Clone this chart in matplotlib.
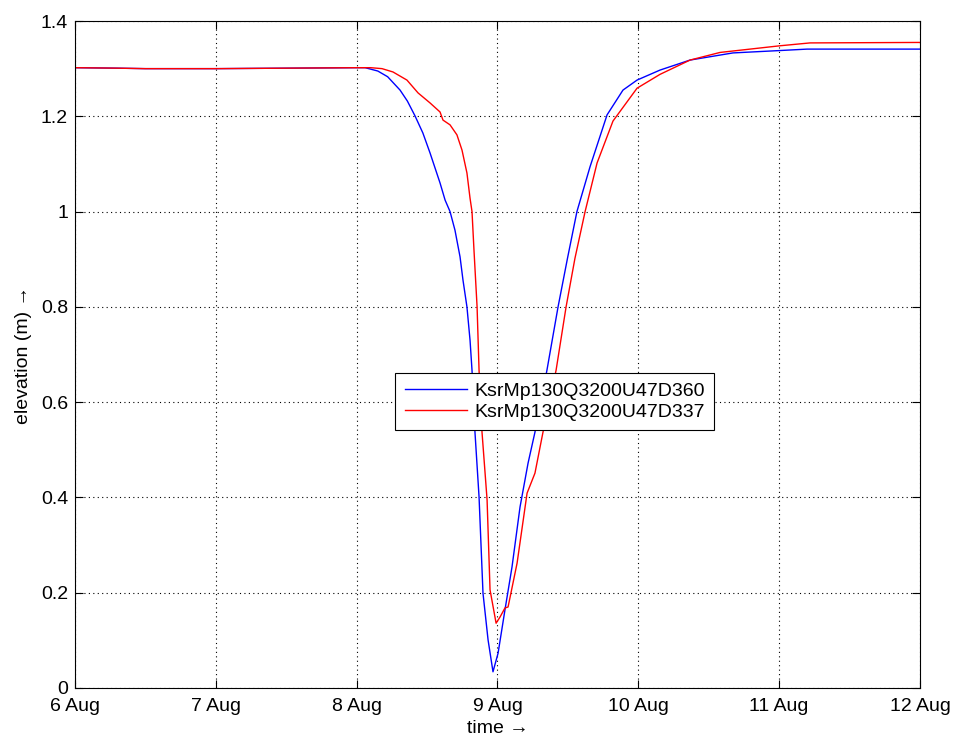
import matplotlib
matplotlib.use("Agg")
import matplotlib.pyplot as plt

plt.rcParams['font.family'] = ['Liberation Sans', 'DejaVu Sans']

# time in days of August
blue_t = [6.0, 6.3, 6.5, 7.0, 7.5, 8.0, 8.06, 8.15, 8.22, 8.308, 8.36, 8.414, 8.47, 8.521, 8.592,
          8.628, 8.663, 8.698, 8.734, 8.755, 8.783, 8.805, 8.819, 8.840, 8.869, 8.897, 8.933,
          8.968, 9.004, 9.053, 9.103, 9.160, 9.217, 9.266, 9.351, 9.430, 9.497, 9.564, 9.657,
          9.778, 9.891, 9.991, 10.154, 10.367, 10.672, 11.006, 11.198, 12.0]
blue_v = [1.302, 1.301, 1.300, 1.300, 1.301, 1.302, 1.302, 1.295, 1.283, 1.255, 1.232, 1.201, 1.165,
          1.123, 1.060, 1.024, 1.000, 0.961, 0.905, 0.856, 0.800, 0.730, 0.667, 0.537, 0.401,
          0.199, 0.101, 0.034, 0.073, 0.164, 0.254, 0.380, 0.472, 0.537, 0.667, 0.800, 0.902,
          1.000, 1.094, 1.203, 1.255, 1.276, 1.297, 1.318, 1.333, 1.338, 1.341, 1.341]

red_t = [6.0, 6.3, 6.5, 7.0, 7.5, 8.0, 8.10, 8.18, 8.258, 8.357, 8.436, 8.521, 8.592, 8.613, 8.663,
         8.712, 8.748, 8.783, 8.805, 8.819, 8.833, 8.855, 8.869, 8.890, 8.926, 8.947, 8.990,
         9.018, 9.053, 9.075, 9.139, 9.210, 9.266, 9.323, 9.416, 9.487, 9.550, 9.622, 9.707,
         9.820, 9.991, 10.154, 10.367, 10.580, 11.006, 11.219, 12.0]
red_v = [1.302, 1.301, 1.300, 1.300, 1.301, 1.302, 1.302, 1.300, 1.293, 1.276, 1.249, 1.228, 1.209,
         1.192, 1.182, 1.161, 1.129, 1.081, 1.028, 1.000, 0.919, 0.800, 0.667, 0.537, 0.395,
         0.206, 0.136, 0.149, 0.168, 0.170, 0.262, 0.409, 0.451, 0.537, 0.667, 0.800, 0.902,
         1.000, 1.102, 1.190, 1.259, 1.288, 1.318, 1.334, 1.348, 1.354, 1.355]

labels = ["KsrMp130Q3200U47D360", "KsrMp130Q3200U47D337"]
x_ticks = [6, 7, 8, 9, 10, 11, 12]
x_ticklabels = ["6 Aug", "7 Aug", "8 Aug", "9 Aug", "10 Aug", "11 Aug", "12 Aug"]
y_ticks = [0, 0.2, 0.4, 0.6, 0.8, 1.0, 1.2, 1.4]
y_ticklabels = ["0", "0.2", "0.4", "0.6", "0.8", "1", "1.2", "1.4"]

fig = plt.figure(figsize=(9.57, 7.38), dpi=100)
ax = fig.add_axes([75/957, 50/738, 845/957, 667/738])

ax.plot(blue_t, blue_v, color='#0000ff', lw=1.0, label=labels[0])
ax.plot(red_t, red_v, color='#ff0000', lw=1.0, label=labels[1])

ax.set_xlim(6, 12)
ax.set_ylim(0, 1.4)
ax.set_xticks(x_ticks)
ax.set_xticklabels(x_ticklabels)
ax.set_yticks(y_ticks)
ax.set_yticklabels(y_ticklabels)
ax.tick_params(direction='in', top=True, right=True, labelsize=14, length=6, width=0.8)
ax.tick_params(axis='x', pad=7.5)
ax.tick_params(axis='y', pad=5)
ax.grid(True, linestyle=(0, (1, 3)), color='black', lw=0.8)
for s in ax.spines.values():
    s.set_linewidth(0.8)

ax.set_xlabel("time \u2192", fontsize=14, labelpad=3)
ax.set_ylabel("elevation (m) \u2192", fontsize=14, labelpad=6)

leg = ax.legend(loc='center', bbox_to_anchor=(0.568, 0.4295), fontsize=14, fancybox=False,
                framealpha=1, edgecolor='black', handlelength=3.2, handletextpad=0.35,
                borderpad=0.5, labelspacing=0.15)
leg.get_frame().set_linewidth(0.8)

fig.savefig("out.png", dpi=100)
